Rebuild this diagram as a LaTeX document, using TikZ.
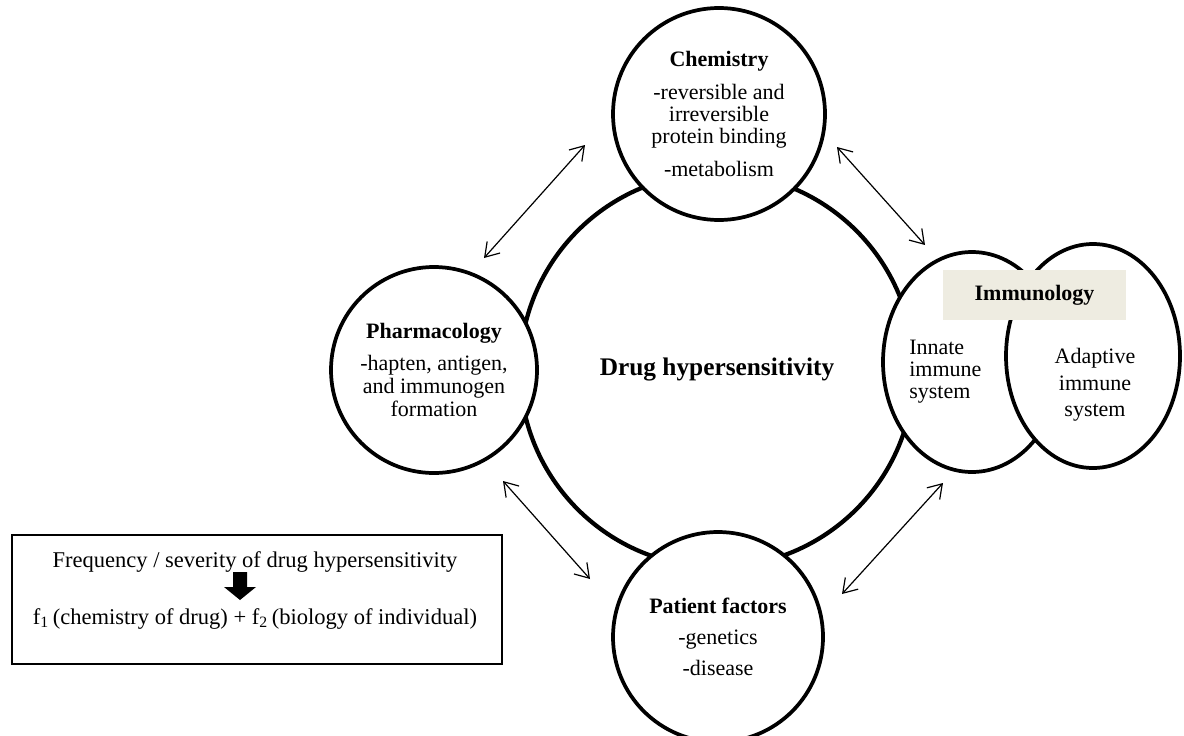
\documentclass[tikz,border=0pt]{standalone}
\usepackage{fontspec}
\setmainfont{Liberation Serif}
\usetikzlibrary{shapes.geometric,arrows.meta}
\definecolor{immbox}{RGB}{238,236,225}
\tikzset{
	bubble/.style={circle, draw=black, line width=2.8pt, fill=white, align=center, inner sep=0pt},
	immune/.style={ellipse, draw=black, line width=2.8pt, fill=white, inner sep=0pt},
	twoway/.style={{Straight Barb[length=10pt,width=13pt]}-{Straight Barb[length=10pt,width=13pt]}, line width=0.9pt},
}
\begin{document}
\begin{tikzpicture}[x=0.75pt,y=-0.75pt]
			\useasboundingbox (0,0) rectangle (1184,735);
			\node[circle, draw=black, line width=3.2pt, minimum size=295.5pt, font=\bfseries\fontsize{19}{22}\selectfont] (hyper) at (717,370) {Drug hypersensitivity};
			
			\node[bubble, minimum size=159pt, font=\fontsize{16.5}{16.3}\selectfont] (chem) at (719,114) {\textbf{Chemistry}\\[8.5pt]-reversible and\\irreversible\\protein binding\\[8.5pt]-metabolism};
			\node[bubble, minimum size=154.5pt, font=\fontsize{16.5}{17.2}\selectfont] (pharm) at (434,370) {\textbf{Pharmacology}\\[7pt]-hapten, antigen,\\and immunogen\\formation};
			\node[bubble, minimum size=157.5pt, font=\fontsize{16.5}{16.3}\selectfont] (patient) at (718,637) {\textbf{Patient factors}\\[6.7pt]-genetics\\[6.7pt]-disease};
			
			\node[immune, minimum width=133.5pt, minimum height=165pt] (innate) at (972,362) {};
			\node[immune, minimum width=130.5pt, minimum height=168pt] (adaptive) at (1093,356) {};
			\node[fill=immbox, minimum width=137.25pt, minimum height=37.5pt, font=\bfseries\fontsize{16.5}{18}\selectfont] (immlabel) at (1034.5,295) {Immunology};
			\node[align=left, anchor=west, inner sep=0pt, font=\fontsize{16.5}{16.5}\selectfont] (innatetxt) at (909,372) {Innate\\immune\\system};
			\node[align=center, inner sep=0pt, font=\fontsize{16.5}{20}\selectfont] (adapttxt) at (1095,385) {Adaptive\\immune\\system};
			
			\coordinate (chemL) at (585,145);
			\coordinate (pharmT) at (484,258);
			\coordinate (chemR) at (837,147);
			\coordinate (immT) at (925,245);
			\draw[twoway] (chemL) -- (pharmT);
			\draw[twoway] (chemR) -- (immT);
			\coordinate (pharmB) at (503,481);
			\coordinate (patL) at (590,579);
			\coordinate (immB) at (943,483);
			\coordinate (patR) at (842,594);
			\draw[twoway] (pharmB) -- (patL);
			\draw[twoway] (immB) -- (patR);
			
			\node[draw=black, line width=1pt, minimum width=367.5pt, minimum height=96.75pt] (summary) at (257,599.5) {};
			\node[font=\fontsize{16.9}{18}\selectfont, inner sep=0pt] (freq) at (255,562) {Frequency / severity of drug hypersensitivity};
			\node[font=\fontsize{16.9}{18}\selectfont, inner sep=0pt] (ffunc) at (255,619) {f\textsubscript{1}\,(chemistry of drug) + f\textsubscript{2}\,(biology of individual)};
			\fill[black] (233,572) -- (247,572) -- (247,587) -- (256,587) -- (240,600) -- (224,587) -- (233,587) -- cycle;
		
\end{tikzpicture}
\end{document}
